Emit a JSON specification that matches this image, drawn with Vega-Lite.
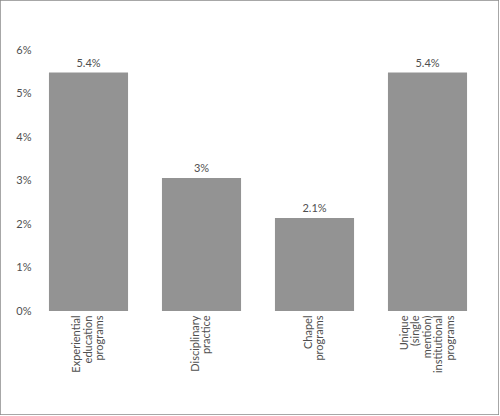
{
  "$schema": "https://vega.github.io/schema/vega-lite/v6.json",
  "autosize": "none",
  "padding": 0,
  "width": 499,
  "height": 415,
  "data": {
    "values": [
      {"category": "Experiential education programs", "share": 5.48, "label": "5.4%"},
      {"category": "Disciplinary practice", "share": 3.06, "label": "3%"},
      {"category": "Chapel programs", "share": 2.14, "label": "2.1%"},
      {"category": "Unique (single mention) institutional programs", "share": 5.48, "label": "5.4%"}
    ]
  },
  "encoding": {
    "x": {
      "field": "category",
      "type": "nominal",
      "sort": null,
      "title": null,
      "scale": {"range": [32, 484], "paddingInner": 0.3, "paddingOuter": 0.15},
      "axis": {
        "offset": -104,
        "labelAngle": -90,
        "labelAlign": "right",
        "labelBaseline": "middle",
        "labelPadding": 4,
        "labelExpr": "split(datum.label, ' ')",
        "labelLineHeight": 11.5,
        "labelOffset": {
          "condition": [
            {"test": "length(split(datum.label, ' ')) == 5", "value": -23},
            {"test": "length(split(datum.label, ' ')) == 3", "value": -11.5}
          ],
          "value": -5.75
        },
        "ticks": false,
        "domain": false
      }
    },
    "y": {
      "field": "share",
      "type": "quantitative",
      "title": null,
      "scale": {"domain": [0, 6], "range": [311, 50]},
      "axis": {
        "values": [0, 1, 2, 3, 4, 5, 6],
        "labelExpr": "datum.value + '%'",
        "offset": -33,
        "labelPadding": 2,
        "ticks": false,
        "domain": false,
        "grid": false
      }
    }
  },
  "layer": [
    {"mark": {"type": "bar", "color": "#939393"}},
    {
      "mark": {"type": "text", "baseline": "bottom", "dy": -4, "fontSize": 11, "color": "#4f4f4f", "font": "Lato"},
      "encoding": {"text": {"field": "label"}}
    }
  ],
  "config": {
    "view": {"stroke": "#8a8a8a", "strokeWidth": 1.5},
    "axis": {"labelFont": "Lato", "labelFontSize": 11, "labelColor": "#4f4f4f"}
  }
}
